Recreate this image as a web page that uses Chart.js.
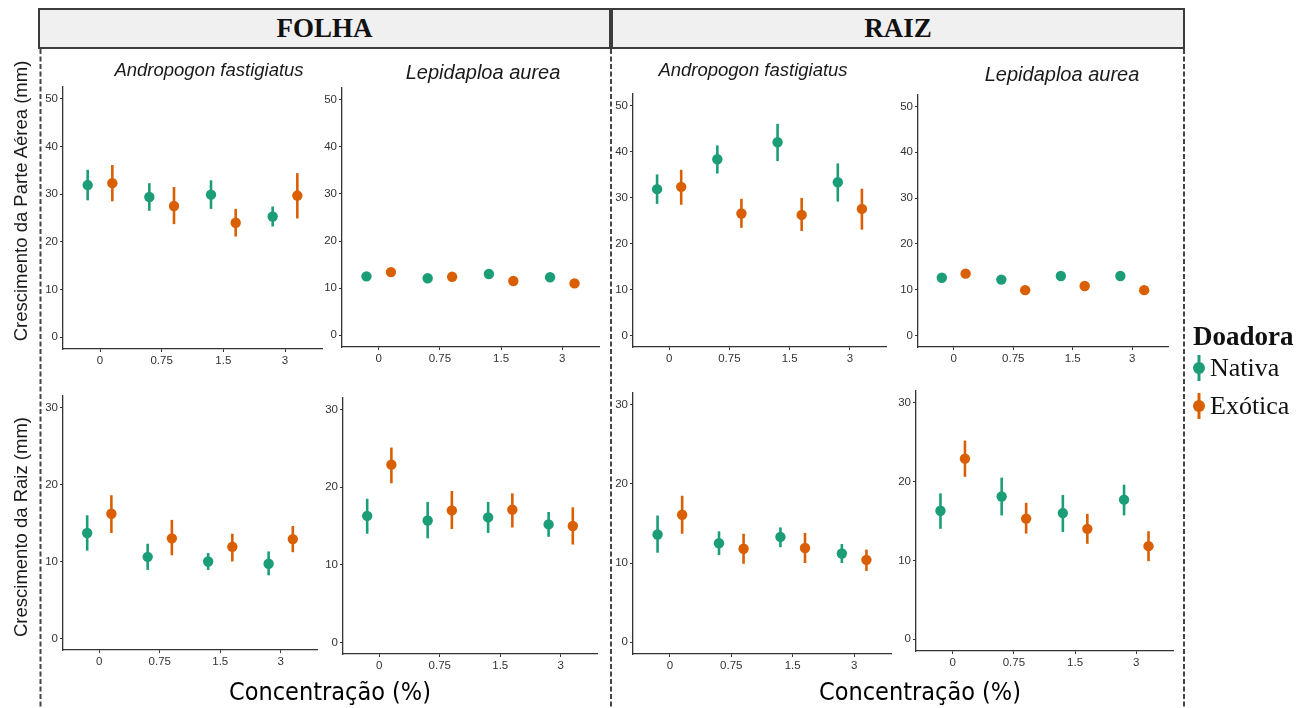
<!DOCTYPE html>
<html lang="pt">
<head>
<meta charset="utf-8">
<title>Crescimento - Folha e Raiz</title>
<script src="https://cdn.jsdelivr.net/npm/chart.js@4.4.1/dist/chart.umd.min.js"></script>
<style>
  html, body { margin: 0; padding: 0; background: #fff; }
  #fig { position: relative; width: 1310px; height: 708px; overflow: hidden;
         font-family: "Liberation Sans", Arial, sans-serif; }
  #decor { position: absolute; left: 0; top: 0; }
  canvas.panel { position: absolute; }
  .strip { position: absolute; top: 8px; height: 41px; background: #f0f0f0;
           border: 2px solid #3c3c3c; box-sizing: border-box;
           font-family: "Liberation Serif", "Times New Roman", serif; font-weight: bold;
           font-size: 27px; color: #111; display: flex; align-items: center; justify-content: center; }
  .ptitle { position: absolute; font-style: italic; color: #1a1a1a; white-space: nowrap;
            transform: translate(-50%, -50%); }
  .ytitle { position: absolute; font-size: 18.5px; color: #1a1a1a; white-space: nowrap;
            transform: translate(-50%, -50%) rotate(-90deg); }
  .xtitle { position: absolute; font-family: "DejaVu Sans Condensed", "DejaVu Sans", sans-serif;
            font-stretch: condensed; font-size: 25px; color: #000; white-space: nowrap;
            transform: translate(-50%, -50%); }
  .leg { position: absolute; font-family: "Liberation Serif", "Times New Roman", serif;
         color: #111; white-space: nowrap; transform: translateY(-50%); }
</style>
</head>
<body>
<div id="fig">
  <canvas id="decor" width="1310" height="708"></canvas>
</div>
<script>
// categorias do eixo x e grupos
const concLabels = ['0', '0.75', '1.5', '3'];
const donors = ['Nativa', 'Exótica'];

// FOLHA - Crescimento da Parte Aérea - Andropogon fastigiatus
const folhaAereaAndroNat   = [31.9, 29.4, 29.9, 25.3];
const folhaAereaAndroNatLo = [28.7, 26.5, 26.9, 23.2];
const folhaAereaAndroNatHi = [35.1, 32.3, 32.9, 27.4];
const folhaAereaAndroExo   = [32.3, 27.5, 24.0, 29.7];
const folhaAereaAndroExoLo = [28.5, 23.7, 21.1, 24.9];
const folhaAereaAndroExoHi = [36.1, 31.5, 26.9, 34.4];

// FOLHA - Crescimento da Parte Aérea - Lepidaploa aurea
const folhaAereaLepiNat   = [12.5, 12.1, 13.0, 12.3];
const folhaAereaLepiNatLo = [11.9, 11.5, 12.4, 11.7];
const folhaAereaLepiNatHi = [13.1, 12.7, 13.6, 12.9];
const folhaAereaLepiExo   = [13.4, 12.4, 11.5, 11.0];
const folhaAereaLepiExoLo = [12.8, 11.8, 10.9, 10.4];
const folhaAereaLepiExoHi = [14.0, 13.0, 12.1, 11.6];

// RAIZ - Crescimento da Parte Aérea - Andropogon fastigiatus
const raizAereaAndroNat   = [31.8, 38.3, 42.0, 33.3];
const raizAereaAndroNatLo = [28.6, 35.2, 37.9, 29.1];
const raizAereaAndroNatHi = [35.0, 41.3, 46.0, 37.4];
const raizAereaAndroExo   = [32.3, 26.5, 26.2, 27.5];
const raizAereaAndroExoLo = [28.4, 23.4, 22.7, 23.0];
const raizAereaAndroExoHi = [36.0, 29.7, 29.9, 31.9];

// RAIZ - Crescimento da Parte Aérea - Lepidaploa aurea
const raizAereaLepiNat   = [12.6, 12.2, 13.0, 13.0];
const raizAereaLepiNatLo = [12.0, 11.6, 12.4, 12.4];
const raizAereaLepiNatHi = [13.2, 12.8, 13.6, 13.6];
const raizAereaLepiExo   = [13.5, 9.9, 10.8, 9.9];
const raizAereaLepiExoLo = [12.9, 9.3, 10.2, 9.3];
const raizAereaLepiExoHi = [14.1, 10.5, 11.4, 10.5];

// FOLHA - Crescimento da Raiz - Andropogon fastigiatus
const folhaRaizAndroNat   = [13.7, 10.6, 10.0, 9.7];
const folhaRaizAndroNatLo = [11.4, 8.9, 8.9, 8.2];
const folhaRaizAndroNatHi = [16.0, 12.3, 11.1, 11.3];
const folhaRaizAndroExo   = [16.2, 13.0, 11.9, 12.9];
const folhaRaizAndroExoLo = [13.7, 10.8, 10.0, 11.2];
const folhaRaizAndroExoHi = [18.6, 15.4, 13.6, 14.6];

// FOLHA - Crescimento da Raiz - Lepidaploa aurea
const folhaRaizLepiNat   = [16.3, 15.7, 16.1, 15.2];
const folhaRaizLepiNatLo = [14.0, 13.4, 14.1, 13.6];
const folhaRaizLepiNatHi = [18.5, 18.1, 18.1, 16.8];
const folhaRaizLepiExo   = [22.9, 17.0, 17.1, 15.0];
const folhaRaizLepiExoLo = [20.5, 14.6, 14.8, 12.6];
const folhaRaizLepiExoHi = [25.1, 19.5, 19.2, 17.4];

// RAIZ - Crescimento da Raiz - Andropogon fastigiatus
const raizRaizAndroNat   = [13.6, 12.5, 13.3, 11.2];
const raizRaizAndroNatLo = [11.3, 11.0, 12.0, 10.0];
const raizRaizAndroNatHi = [16.0, 14.0, 14.5, 12.4];
const raizRaizAndroExo   = [16.1, 11.8, 11.9, 10.4];
const raizRaizAndroExoLo = [13.7, 9.9, 10.0, 9.0];
const raizRaizAndroExoHi = [18.5, 13.7, 13.8, 11.7];

// RAIZ - Crescimento da Raiz - Lepidaploa aurea
const raizRaizLepiNat   = [16.3, 18.1, 16.0, 17.7];
const raizRaizLepiNatLo = [14.0, 15.7, 13.6, 15.7];
const raizRaizLepiNatHi = [18.5, 20.5, 18.3, 19.6];
const raizRaizLepiExo   = [22.9, 15.3, 14.0, 11.8];
const raizRaizLepiExoLo = [20.6, 13.4, 12.1, 9.9];
const raizRaizLepiExoHi = [25.2, 17.3, 15.9, 13.7];

const donorColors = ['#1b9e77', '#d95f02'];
const dodge = [-0.2, 0.2];

// caixa de cada painel: [eixo y, fim do eixo x, topo, eixo x]
const panels = [
  { title: 'Andropogon fastigiatus', tSize: 18.5, tPos: [209, 70], yMax: 50, box: [63, 322, 84, 349],
    mean: [folhaAereaAndroNat, folhaAereaAndroExo], lo: [folhaAereaAndroNatLo, folhaAereaAndroExoLo], hi: [folhaAereaAndroNatHi, folhaAereaAndroExoHi] },
  { title: 'Lepidaploa aurea', tSize: 20, tPos: [483, 72], yMax: 50, box: [342, 599, 85, 347],
    mean: [folhaAereaLepiNat, folhaAereaLepiExo], lo: [folhaAereaLepiNatLo, folhaAereaLepiExoLo], hi: [folhaAereaLepiNatHi, folhaAereaLepiExoHi] },
  { title: 'Andropogon fastigiatus', tSize: 18.5, tPos: [753, 70], yMax: 50, box: [633, 886, 91, 347],
    mean: [raizAereaAndroNat, raizAereaAndroExo], lo: [raizAereaAndroNatLo, raizAereaAndroExoLo], hi: [raizAereaAndroNatHi, raizAereaAndroExoHi] },
  { title: 'Lepidaploa aurea', tSize: 20, tPos: [1062, 74], yMax: 50, box: [918, 1168, 92, 347],
    mean: [raizAereaLepiNat, raizAereaLepiExo], lo: [raizAereaLepiNatLo, raizAereaLepiExoLo], hi: [raizAereaLepiNatHi, raizAereaLepiExoHi] },
  { yMax: 30, box: [63, 317, 393, 650],
    mean: [folhaRaizAndroNat, folhaRaizAndroExo], lo: [folhaRaizAndroNatLo, folhaRaizAndroExoLo], hi: [folhaRaizAndroNatHi, folhaRaizAndroExoHi] },
  { yMax: 30, box: [343, 597, 395, 654],
    mean: [folhaRaizLepiNat, folhaRaizLepiExo], lo: [folhaRaizLepiNatLo, folhaRaizLepiExoLo], hi: [folhaRaizLepiNatHi, folhaRaizLepiExoHi] },
  { yMax: 30, box: [633, 891, 390, 654],
    mean: [raizRaizAndroNat, raizRaizAndroExo], lo: [raizRaizAndroNatLo, raizRaizAndroExoLo], hi: [raizRaizAndroNatHi, raizRaizAndroExoHi] },
  { yMax: 30, box: [916, 1173, 388, 651],
    mean: [raizRaizLepiNat, raizRaizLepiExo], lo: [raizRaizLepiNatLo, raizRaizLepiExoLo], hi: [raizRaizLepiNatHi, raizRaizLepiExoHi] }
];

// barras de erro (linha vertical de lo até hi)
const errorBars = {
  id: 'errorBars',
  beforeDatasetsDraw(chart) {
    const ctx = chart.ctx;
    const yScale = chart.scales.y;
    chart.data.datasets.forEach((ds, i) => {
      const meta = chart.getDatasetMeta(i);
      ctx.save();
      ctx.strokeStyle = ds.borderColor;
      ctx.lineWidth = 2.6;
      meta.data.forEach((pt, j) => {
        const d = ds.data[j];
        ctx.beginPath();
        ctx.moveTo(pt.x, yScale.getPixelForValue(d.lo));
        ctx.lineTo(pt.x, yScale.getPixelForValue(d.hi));
        ctx.stroke();
      });
      ctx.restore();
    });
  }
};

const fig = document.getElementById('fig');
const tickFont = { size: 11.5, family: '"Liberation Sans", Arial, sans-serif' };

function addDiv(cls, text, css) {
  const d = document.createElement('div');
  d.className = cls;
  d.textContent = text;
  Object.assign(d.style, css);
  fig.appendChild(d);
  return d;
}

function makePanel(p) {
  const padL = 34, padR = 6, padT = 6, padB = 24;
  const [ax, rx, ty, by] = p.box;
  const w = rx - ax + padL + padR;
  const h = by - ty + padT + padB;
  const cv = document.createElement('canvas');
  cv.className = 'panel';
  cv.width = w; cv.height = h;
  cv.style.left = (ax - padL) + 'px';
  cv.style.top = (ty - padT) + 'px';
  cv.style.width = w + 'px';
  cv.style.height = h + 'px';
  fig.appendChild(cv);

  const datasets = donors.map((name, k) => ({
    label: name,
    data: concLabels.map((c, i) => ({ x: i + dodge[k], y: p.mean[k][i], lo: p.lo[k][i], hi: p.hi[k][i] })),
    backgroundColor: donorColors[k],
    borderColor: donorColors[k],
    pointRadius: 5.2,
    pointHoverRadius: 5.2,
    pointBorderWidth: 0
  }));

  const axisCommon = {
    grid: { drawOnChartArea: false, drawTicks: true, tickLength: 3, color: '#333' },
    border: { display: true, color: '#333', width: 1.3 }
  };

  new Chart(cv, {
    type: 'scatter',
    data: { datasets },
    options: {
      responsive: false,
      animation: false,
      events: [],
      layout: { padding: { top: padT, right: padR, left: 0, bottom: 0 } },
      plugins: { legend: { display: false }, tooltip: { enabled: false } },
      scales: {
        x: {
          ...axisCommon,
          type: 'linear', min: -0.6, max: 3.6,
          afterBuildTicks: s => { s.ticks = concLabels.map((c, i) => ({ value: i })); },
          afterFit: s => { s.height = padB; },
          ticks: { callback: v => concLabels[v], color: '#333', font: tickFont, padding: 2,
                   maxRotation: 0, autoSkip: false }
        },
        y: {
          ...axisCommon,
          min: -p.yMax * 0.05, max: p.yMax * 1.05,
          afterBuildTicks: s => {
            const t = [];
            for (let v = 0; v <= p.yMax; v += 10) t.push({ value: v });
            s.ticks = t;
          },
          afterFit: s => { s.width = padL; },
          ticks: { color: '#333', font: tickFont, padding: 2 }
        }
      }
    },
    plugins: [errorBars]
  });

  if (p.title) {
    addDiv('ptitle', p.title, { left: p.tPos[0] + 'px', top: p.tPos[1] + 'px', fontSize: p.tSize + 'px' });
  }
}

panels.forEach(makePanel);

// faixas de cabeçalho
addDiv('strip', 'FOLHA', { left: '38px', width: '573px' });
addDiv('strip', 'RAIZ', { left: '611px', width: '574px' });

// títulos dos eixos
addDiv('ytitle', 'Crescimento da Parte Aérea (mm)', { left: '21px', top: '201px' });
addDiv('ytitle', 'Crescimento da Raiz (mm)', { left: '21px', top: '527px' });
addDiv('xtitle', 'Concentração (%)', { left: '330px', top: '691px' });
addDiv('xtitle', 'Concentração (%)', { left: '920px', top: '691px' });

// legenda
addDiv('leg', 'Doadora', { left: '1193px', top: '336px', fontSize: '27px', fontWeight: 'bold' });
addDiv('leg', donors[0], { left: '1210px', top: '368px', fontSize: '26px' });
addDiv('leg', donors[1], { left: '1210px', top: '406px', fontSize: '26px' });

// linhas tracejadas e símbolos da legenda
const dc = document.getElementById('decor').getContext('2d');
dc.strokeStyle = '#444';
dc.lineWidth = 2;
dc.setLineDash([5, 2.5]);
[40.5, 611, 1184].forEach(x => {
  dc.beginPath();
  dc.moveTo(x, 49);
  dc.lineTo(x, 708);
  dc.stroke();
});
dc.setLineDash([]);
[[368, donorColors[0]], [406, donorColors[1]]].forEach(([y, col]) => {
  dc.strokeStyle = col;
  dc.fillStyle = col;
  dc.lineWidth = 3;
  dc.beginPath();
  dc.moveTo(1199, y - 13);
  dc.lineTo(1199, y + 13);
  dc.stroke();
  dc.beginPath();
  dc.arc(1199, y, 6, 0, Math.PI * 2);
  dc.fill();
});
</script>
</body>
</html>
